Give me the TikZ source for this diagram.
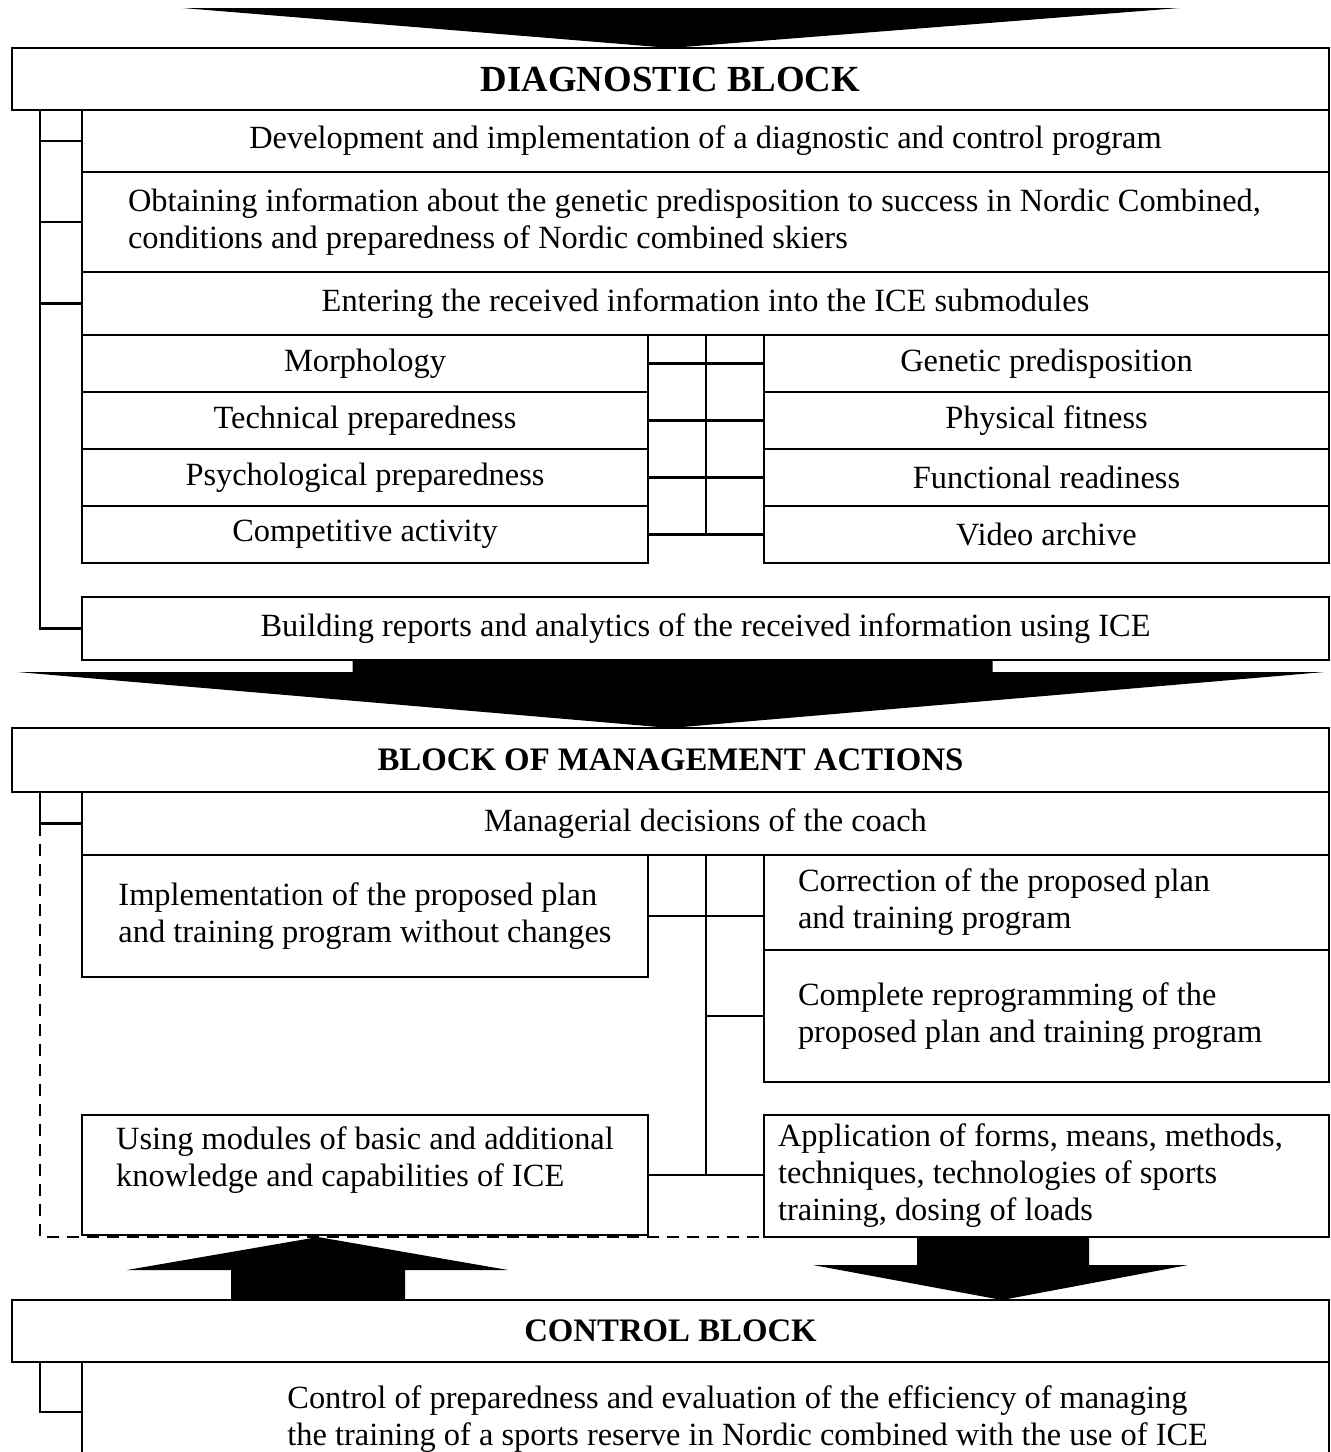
\documentclass[tikz,border=0pt]{standalone}
\usepackage{fontspec}
\setmainfont{Liberation Serif}
\usetikzlibrary{positioning,calc}
\tikzset{
  head/.style   = {draw=black, line width=1.1pt, fill=white, inner sep=0pt, outer sep=0pt,
                   font=\fontsize{16.4}{18.5}\selectfont\bfseries,
                   minimum width=658.5pt, minimum height=31pt},
  row/.style    = {draw=black, line width=1.1pt, fill=white, inner sep=0pt, outer sep=0pt,
                   font=\fontsize{16.2}{18.5}\selectfont, align=center,
                   minimum width=623.5pt, minimum height=31pt},
  lcell/.style  = {row, minimum width=283pt, minimum height=28.5pt},
  rcell/.style  = {row, minimum width=282.5pt, minimum height=28.5pt},
  lab/.style    = {font=\fontsize{16.2}{18.5}\selectfont, align=flush left, inner sep=0pt},
  link/.style   = {draw=black, line width=1.4pt},
  dlink/.style  = {link, dash pattern=on 6pt off 4pt},
  bigarr/.style = {fill=black, draw=none},
}
\begin{document}
\begin{tikzpicture}[x=0.5pt, y=-0.5pt]
  \useasboundingbox (0,0) rectangle (1331,1452);
  \clip (0,0) rectangle (1331,1452);

  % diagnostic block
  \node[head, anchor=north west, font=\fontsize{18.4}{20}\selectfont\bfseries] (dhead) at (12,48) {DIAGNOSTIC BLOCK};
  \node[row, anchor=north east] (dev) at (dhead.south east) {Development and implementation of a diagnostic and control program};
  \node[row, below=0pt of dev, minimum height=50pt, align=flush left, text width=577.5pt, inner xsep=23pt] (obtain) {Obtaining information about the genetic predisposition to success in Nordic Combined,\\conditions and preparedness of Nordic combined skiers};
  \node[row, below=0pt of obtain, minimum height=31.5pt] (enter) {Entering the received information into the ICE submodules};
  \node[lcell, anchor=north west] (morph) at (enter.south west) {Morphology};
  \node[lcell, below=0pt of morph] (tech) {Technical preparedness};
  \node[lcell, below=0pt of tech] (psych) {Psychological preparedness};
  \node[lcell, below=0pt of psych] (comp) {Competitive activity};
  \node[rcell, anchor=north east] (genet) at (enter.south east) {Genetic predisposition};
  \node[rcell, below=0pt of genet] (phys) {Physical fitness};
  \node[rcell, below=0pt of phys] (func) {Functional readiness};
  \node[rcell, below=0pt of func] (video) {Video archive};
  \node[row, anchor=north east, minimum height=31.5pt] (report) at (1329,597) {Building reports and analytics of the received information using ICE};

  % management block
  \node[head, anchor=north west, minimum height=32pt] (mhead) at (12,728) {BLOCK OF MANAGEMENT ACTIONS};
  \node[row, anchor=north east, minimum height=31.5pt] (decide) at (mhead.south east) {Managerial decisions of the coach};
  \node[lcell, anchor=north west, minimum height=61pt, align=left] (keep) at (decide.south west) {Implementation of the proposed plan\\and training program without changes};
  \node[rcell, anchor=north east, minimum height=47.5pt, align=flush left, text width=248.5pt, inner xsep=17pt] (correct) at (decide.south east) {Correction of the proposed plan\\and training program};
  \node[rcell, below=0pt of correct, minimum height=66pt, align=flush left, text width=248.5pt, inner xsep=17pt] (reprog) {Complete reprogramming of the\\proposed plan and training program};
  \node[lcell, anchor=north west, minimum height=60pt, align=left, text depth=18.5pt] (modules) at (82,1115) {Using modules of basic and additional\\knowledge and capabilities of ICE};
  \node[rcell, anchor=north east, minimum height=61pt, align=flush left, text width=268.5pt, inner xsep=7pt] (apply) at (1329,1115) {Application of forms, means, methods,\\techniques, technologies of sports\\training, dosing of loads};

  % control block
  \node[head, anchor=north west] (chead) at (12,1300) {CONTROL BLOCK};
  \node[row, anchor=north east, minimum height=50pt] (ctrl) at (chead.south east) {};
  \node[lab, anchor=north west] (ctrltext) at (287,1385) {Control of preparedness and evaluation of the efficiency of managing\\the training of a sports reserve in Nordic combined with the use of ICE};

  % brackets on the left
  \coordinate (dspine) at ($(dhead.south west)+(28,0)$);
  \draw[link] (dspine) |- (report.west);
  \foreach \n in {dev,obtain,enter}
    \draw[link] (\n.west) -- (\n.west -| dspine);
  \coordinate (mspine) at ($(mhead.south west)+(28,0)$);
  \draw[link] (mspine) |- (decide.west);
  \draw[dlink] (decide.west -| mspine) |- (apply.south west);
  \coordinate (cspine) at ($(chead.south west)+(28,0)$);
  \draw[link] (cspine) |- (ctrl.west);

  % middle connectors
  \coordinate (gspine) at ($(morph.east)!0.5!(genet.west)$);
  \draw[link] (enter.south -| gspine) -- (comp.east -| gspine);
  \foreach \l/\r in {morph/genet,tech/phys,psych/func,comp/video}
    \draw[link] (\l.east) -- (\r.west);
  \coordinate (aspine) at ($(keep.east)!0.5!(correct.west)$);
  \draw[link] (decide.south -| aspine) -- (modules.east -| aspine);
  \draw[link] (keep.east) -- (keep.east -| correct.west);
  \draw[link] (reprog.west -| aspine) -- (reprog.west);
  \draw[link] (modules.east) -- (modules.east -| apply.west);

  % big arrows
  \fill[bigarr] (dhead.north) -- ++(-488,-40) -- ++(997,0) -- cycle;
  \fill[bigarr] (mhead.north) -- ++(-653,-56) -- ++(335,0) -- ++(0,-12) -- ++(640,0)
    -- ++(0,12) -- ++(332,0) -- cycle;
  \fill[bigarr] ($(chead.north west)+(219,0)$) -- ++(0,-30) -- ++(-104,0) -- ++(191,-33)
    -- ++(190,33) -- ++(-103,0) -- ++(0,30) -- cycle;
  \fill[bigarr] ($(apply.south west)+(153,0)$) -- ++(0,28) -- ++(-104,0) -- ++(189,35)
    -- ++(186,-35) -- ++(-99,0) -- ++(0,-28) -- cycle;
\end{tikzpicture}
\end{document}
